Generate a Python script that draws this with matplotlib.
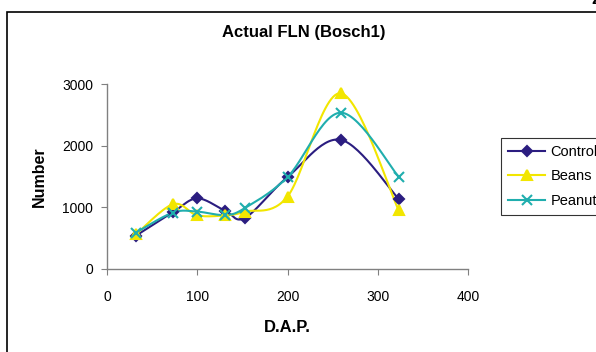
import numpy as np
import matplotlib.pyplot as plt
from matplotlib.patches import Rectangle

plt.rcParams['font.family'] = ['Liberation Sans', 'DejaVu Sans']

dap = [32, 73, 100, 131, 153, 200, 259, 323]
control = [540, 920, 1145, 945, 830, 1490, 2095, 1140]
beans = [560, 1050, 870, 870, 930, 1175, 2850, 960]
peanut = [590, 915, 930, 875, 990, 1490, 2535, 1500]

series_names = ['Control', 'Beans', 'Peanut']
colors = ['#2B1D80', '#F2E600', '#20AEAE']
markers = ['D', '^', 'x']
marker_sizes = [5, 7, 7]


def smooth(x, y, n=30):
    # Excel-style smoothed line: cubic Bezier with Catmull-Rom control points
    p = np.column_stack([x, y]).astype(float)
    p = np.vstack([p[0], p, p[-1]])
    out = []
    for i in range(1, len(p) - 2):
        p0, p1, p2, p3 = p[i - 1], p[i], p[i + 1], p[i + 2]
        c1 = p1 + (p2 - p0) / 6
        c2 = p2 - (p3 - p1) / 6
        t = np.linspace(0, 1, n)[:, None]
        seg = ((1 - t) ** 3) * p1 + 3 * ((1 - t) ** 2) * t * c1 + 3 * (1 - t) * t ** 2 * c2 + t ** 3 * p2
        out.append(seg)
    seg = np.vstack(out)
    return seg[:, 0], seg[:, 1]


fig = plt.figure(figsize=(5.96, 3.52), dpi=100)
ax = fig.add_axes([107 / 596, 1 - 269 / 352, 361 / 596, 185 / 352])

handles = []
for name, vals, c, m, ms in zip(series_names, [control, beans, peanut], colors, markers, marker_sizes):
    sx, sy = smooth(dap, vals)
    ax.plot(sx, sy, color=c, lw=1.5, zorder=2, clip_on=False)
    ax.plot(dap, vals, ls='none', marker=m, color=c, ms=ms, mew=1.5, zorder=3, clip_on=False)
    h, = ax.plot([], [], color=c, lw=1.5, marker=m, ms=ms, mew=1.5, label=name)
    handles.append(h)

ax.set_xlim(0, 400)
ax.set_ylim(0, 3000)
ax.set_xticks([0, 100, 200, 300, 400])
ax.set_yticks([0, 1000, 2000, 3000])
for s in ['top', 'right']:
    ax.spines[s].set_visible(False)
for s in ['left', 'bottom']:
    ax.spines[s].set_color('#808080')
    ax.spines[s].set_linewidth(1)
ax.tick_params(direction='out', length=4, color='#808080', labelsize=10, pad=6)
ax.tick_params(axis='x', pad=11)

fig.text(304 / 596, 1 - 33 / 352, 'Actual FLN (Bosch1)', fontsize=12, fontweight='bold',
         ha='center', va='center')
ax.set_xlabel('D.A.P.', fontsize=12, fontweight='bold', labelpad=12)
ax.set_ylabel('Number', fontsize=11.5, fontweight='bold', labelpad=11)

leg = fig.legend(handles=handles, loc='upper left', bbox_to_anchor=(501 / 596, 1 - 138 / 352),
                 frameon=True, fancybox=False, fontsize=10.5, handlelength=2.5,
                 borderpad=0.5, labelspacing=0.7, handletextpad=0.4, borderaxespad=0)
leg.get_frame().set_edgecolor('black')
leg.get_frame().set_linewidth(0.8)

# outer chart frame (extends past the right and bottom edges)
fig.patches.append(Rectangle((7 / 596, -0.1), 1.2, 1 - 12 / 352 + 0.1,
                             transform=fig.transFigure, fill=False,
                             edgecolor='black', lw=1.2))
fig.text(0.992, 1.0, '2', fontsize=12, fontweight='bold', va='center', ha='left')

fig.savefig('out.png', dpi=100)
